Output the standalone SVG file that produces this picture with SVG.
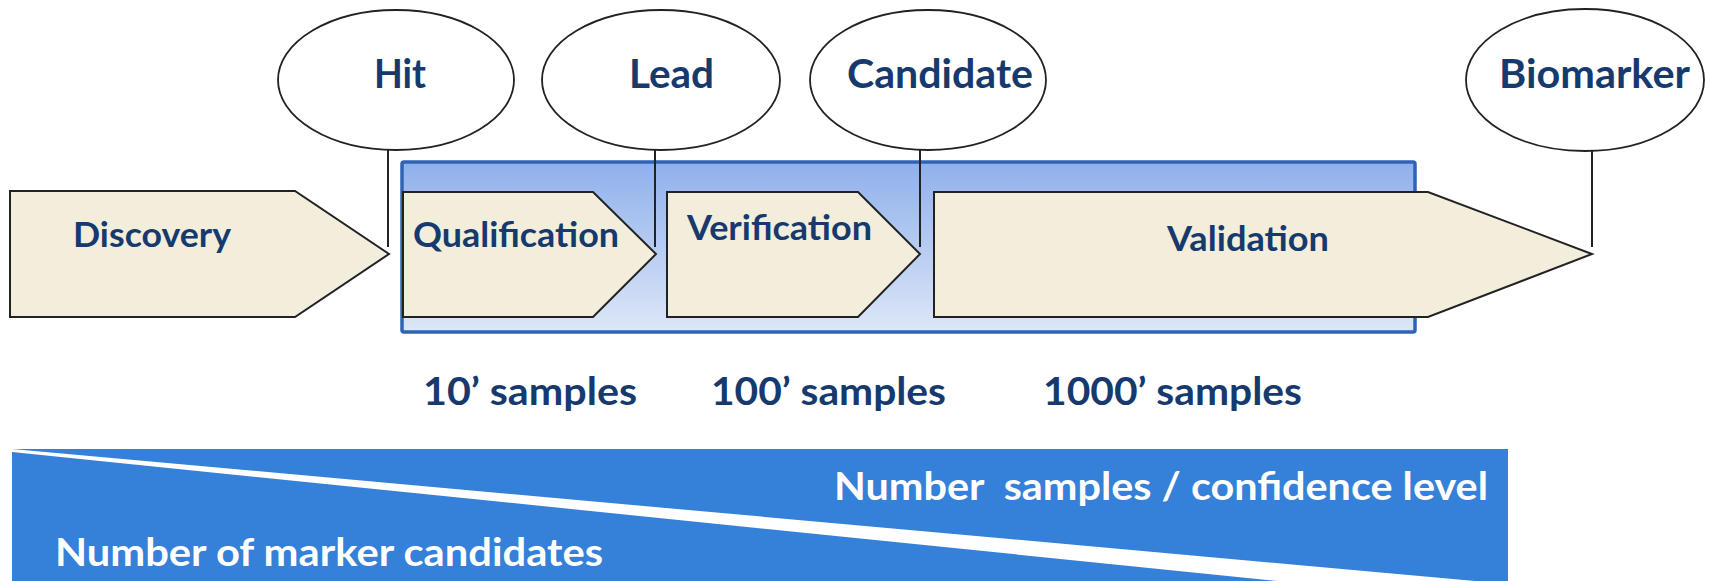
<svg xmlns="http://www.w3.org/2000/svg" width="1709" height="581" viewBox="0 0 1709 581">
<defs>
<linearGradient id="boxGrad" x1="0" y1="0" x2="0" y2="1">
<stop offset="0" stop-color="#8fb0ec"/>
<stop offset="1" stop-color="#dde7f8"/>
</linearGradient>
</defs>
<style>
.oval{fill:#ffffff;stroke:#222222;stroke-width:1.8}
.stage{fill:#f2eedb;stroke:#222222;stroke-width:2;stroke-linejoin:miter}
.lbl{font-family:Lato,"Open Sans","Liberation Sans",sans-serif;font-weight:bold;fill:#173a6e}
.wt{font-family:Lato,"Open Sans","Liberation Sans",sans-serif;font-weight:bold;fill:#ffffff;white-space:pre}
.conn{stroke:#222222;stroke-width:2;fill:none}
</style>
<rect id="background" x="0" y="0" width="1709" height="581" fill="#ffffff"/>

<g id="phase-box">
<rect x="402" y="162" width="1013" height="170" rx="2" fill="url(#boxGrad)" stroke="#2e64b5" stroke-width="3.5"/>
</g>

<g id="discovery">
<polygon class="stage" points="10,191 295,191 389,254 295,317 10,317"/>
<text class="lbl" x="73" y="247" font-size="35" textLength="158" lengthAdjust="spacingAndGlyphs">Discovery</text>
</g>
<g id="qualification">
<polygon class="stage" points="403,192 593,192 656,254 593,317 403,317"/>
<text class="lbl" x="413" y="247" font-size="35" textLength="206" lengthAdjust="spacingAndGlyphs">Qualification</text>
</g>
<g id="verification">
<polygon class="stage" points="667,192 858,192 920,254 858,317 667,317"/>
<text class="lbl" x="687" y="240" font-size="35" textLength="185" lengthAdjust="spacingAndGlyphs">Verification</text>
</g>
<g id="validation">
<polygon class="stage" points="934,192 1428,192 1592,254 1428,317 934,317"/>
<text class="lbl" x="1167" y="251" font-size="35" textLength="162" lengthAdjust="spacingAndGlyphs">Validation</text>
</g>

<g id="connectors">
<line class="conn" x1="388" y1="150" x2="388" y2="247"/>
<line class="conn" x1="655" y1="150" x2="655" y2="247"/>
<line class="conn" x1="920" y1="150" x2="920" y2="247"/>
<line class="conn" x1="1592" y1="150" x2="1592" y2="247"/>
</g>

<g id="hit">
<ellipse class="oval" cx="396" cy="80" rx="118" ry="70"/>
<text class="lbl" x="374" y="88" font-size="41" textLength="52" lengthAdjust="spacingAndGlyphs">Hit</text>
</g>
<g id="lead">
<ellipse class="oval" cx="661" cy="80" rx="119" ry="70"/>
<text class="lbl" x="629" y="88" font-size="41" textLength="85" lengthAdjust="spacingAndGlyphs">Lead</text>
</g>
<g id="candidate">
<ellipse class="oval" cx="928" cy="80" rx="118" ry="70"/>
<text class="lbl" x="847" y="88" font-size="41" textLength="186" lengthAdjust="spacingAndGlyphs">Candidate</text>
</g>
<g id="biomarker">
<ellipse class="oval" cx="1585" cy="80" rx="119" ry="71"/>
<text class="lbl" x="1499" y="88" font-size="41" textLength="191" lengthAdjust="spacingAndGlyphs">Biomarker</text>
</g>

<g id="sample-labels">
<text class="lbl" x="423" y="405" font-size="39" textLength="214" lengthAdjust="spacingAndGlyphs">10’ samples</text>
<text class="lbl" x="711" y="405" font-size="39" textLength="235" lengthAdjust="spacingAndGlyphs">100’ samples</text>
<text class="lbl" x="1043" y="405" font-size="39" textLength="259" lengthAdjust="spacingAndGlyphs">1000’ samples</text>
</g>

<g id="trend-band">
<rect x="12" y="449" width="1496" height="132" fill="#3580d8"/>
<polygon points="12,449 1475,581 1277,581 12,452" fill="#ffffff"/>
<text class="wt" x="834" y="500" font-size="39" textLength="654" lengthAdjust="spacingAndGlyphs" xml:space="preserve">Number  samples / confidence level</text>
<text class="wt" x="55" y="566" font-size="39" textLength="548" lengthAdjust="spacingAndGlyphs">Number of marker candidates</text>
</g>
</svg>
